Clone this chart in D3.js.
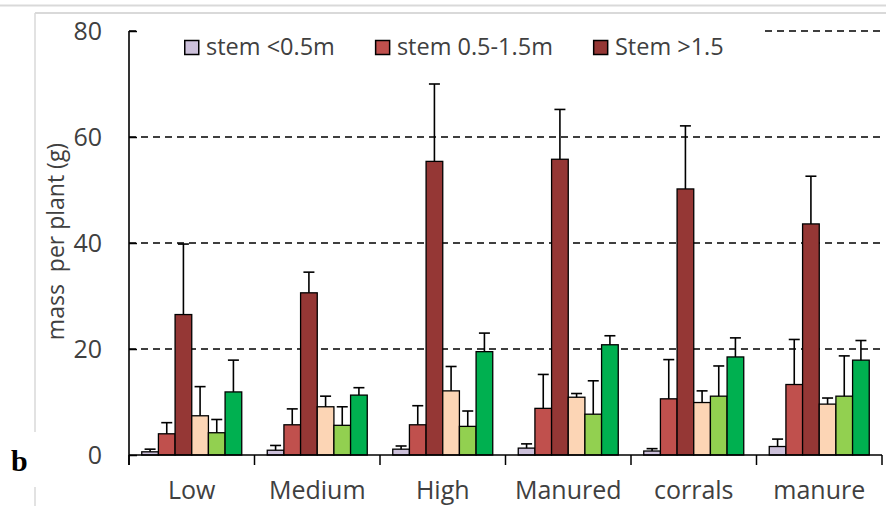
<!DOCTYPE html>
<html>
<head>
<meta charset="utf-8">
<script src="https://cdn.jsdelivr.net/npm/d3@7"></script>
<style>
  html, body { margin: 0; padding: 0; background: #fff; }
  svg { display: block; }
  text { font-family: "Open Sans", sans-serif; fill: #404040; }
</style>
</head>
<body>
<svg id="chart" width="886" height="506"></svg>
<script>
// Treatments along the x axis
const categories = ["Low", "Medium", "High", "Manured", "corrals", "manure"];

// Mean mass per plant (g) for each of the six bar series
const stemSmall  = [0.6, 0.9, 1.1, 1.3, 0.75, 1.6];
const stemMid    = [4.0, 5.7, 5.7, 8.8, 10.6, 13.3];
const stemLarge  = [26.5, 30.6, 55.4, 55.8, 50.2, 43.6];
const peachVals  = [7.4, 9.1, 12.1, 10.9, 9.9, 9.6];
const lightGreen = [4.2, 5.6, 5.4, 7.7, 11.1, 11.1];
const greenVals  = [11.9, 11.3, 19.5, 20.8, 18.5, 17.9];

// Upper error (standard error) for each series
const stemSmallErr  = [0.5, 0.9, 0.6, 0.8, 0.45, 1.4];
const stemMidErr    = [2.1, 3.0, 3.6, 6.4, 7.4, 8.5];
const stemLargeErr  = [13.3, 3.9, 14.6, 9.4, 11.9, 9.0];
const peachErr      = [5.5, 2.0, 4.6, 0.7, 2.2, 1.15];
const lightGreenErr = [2.5, 3.5, 2.9, 6.3, 5.7, 7.6];
const greenErr      = [6.0, 1.4, 3.5, 1.7, 3.6, 3.7];

const legendLabels = ["stem <0.5m", "stem 0.5-1.5m", "Stem >1.5"];
const yTicks = [0, 20, 40, 60, 80];

const colors = ["#CCC0DA", "#C0504D", "#953735", "#FCD5B5", "#92D050", "#00B050"];

const seriesVals = [stemSmall, stemMid, stemLarge, peachVals, lightGreen, greenVals];
const seriesErr  = [stemSmallErr, stemMidErr, stemLargeErr, peachErr, lightGreenErr, greenErr];
const seriesIdx = d3.range(seriesVals.length);

const svg = d3.select("#chart");

// Outer frame lines
svg.append("line").attr("x1", 0).attr("x2", 886).attr("y1", 5.5).attr("y2", 5.5)
  .attr("stroke", "#d9d9d9").attr("stroke-width", 2);
svg.append("line").attr("x1", 35).attr("x2", 886).attr("y1", 13).attr("y2", 13)
  .attr("stroke", "#d9d9d9").attr("stroke-width", 2);
svg.append("line").attr("x1", 35).attr("x2", 35).attr("y1", 13).attr("y2", 432)
  .attr("stroke", "#d9d9d9").attr("stroke-width", 1.5);
svg.append("line").attr("x1", 35).attr("x2", 35).attr("y1", 487).attr("y2", 506)
  .attr("stroke", "#d9d9d9").attr("stroke-width", 1.5);

const plotLeft = 129, plotRight = 882, plotTop = 31, plotBottom = 455;

const y = d3.scaleLinear().domain([0, 80]).range([plotBottom, plotTop]);
const x = d3.scaleBand().domain(categories).range([plotLeft, plotRight])
  .paddingInner(0.2032).paddingOuter(0.1016);
const xs = d3.scaleBand().domain(seriesIdx).range([0, x.bandwidth()]);

// Dashed horizontal gridlines
svg.append("g").selectAll("line").data(yTicks.filter(t => t > 0)).join("line")
  .attr("x1", plotLeft).attr("x2", plotRight)
  .attr("y1", d => y(d)).attr("y2", d => y(d))
  .attr("stroke", "#000").attr("stroke-width", 1.5).attr("stroke-dasharray", "7,5");

// Bars
const groups = svg.append("g").selectAll("g").data(categories).join("g")
  .attr("transform", d => `translate(${x(d)},0)`);

groups.selectAll("rect").data((c, ci) => seriesIdx.map(s => ({ s, v: seriesVals[s][ci], e: seriesErr[s][ci] })))
  .join("rect")
  .attr("x", d => xs(d.s)).attr("width", xs.bandwidth())
  .attr("y", d => y(d.v)).attr("height", d => y(0) - y(d.v))
  .attr("fill", d => colors[d.s]).attr("stroke", "#000").attr("stroke-width", 1.3);

// Error bars (upper only)
const cap = 11;
const eb = groups.selectAll("g.err").data((c, ci) => seriesIdx.map(s => ({ s, v: seriesVals[s][ci], e: seriesErr[s][ci] })))
  .join("g").attr("class", "err");
eb.append("line")
  .attr("x1", d => xs(d.s) + xs.bandwidth() / 2).attr("x2", d => xs(d.s) + xs.bandwidth() / 2)
  .attr("y1", d => y(d.v)).attr("y2", d => y(d.v + d.e))
  .attr("stroke", "#000").attr("stroke-width", 1.6);
eb.append("line")
  .attr("x1", d => xs(d.s) + xs.bandwidth() / 2 - cap / 2).attr("x2", d => xs(d.s) + xs.bandwidth() / 2 + cap / 2)
  .attr("y1", d => y(d.v + d.e)).attr("y2", d => y(d.v + d.e))
  .attr("stroke", "#000").attr("stroke-width", 1.6);

// Y axis: inward ticks, labels on the left
const yAxis = d3.axisLeft(y).tickValues(yTicks).tickSizeInner(-8).tickSizeOuter(0).tickPadding(27);
const yg = svg.append("g").attr("transform", `translate(${plotLeft},0)`).call(yAxis);
yg.select(".domain").remove();
yg.selectAll(".tick line").attr("stroke", "#000").attr("stroke-width", 1.5);
yg.selectAll(".tick text").attr("font-size", 25).attr("font-family", "Open Sans").attr("fill", "#404040");
svg.append("line").attr("x1", plotLeft).attr("x2", plotLeft).attr("y1", plotTop).attr("y2", plotBottom + 10)
  .attr("stroke", "#000").attr("stroke-width", 1.6);

// X axis: baseline, boundary ticks, category labels
const halfGap = (x.step() - x.bandwidth()) / 2;
const bounds = categories.map(c => x(c) - halfGap).concat([x(categories[categories.length - 1]) + x.bandwidth() + halfGap]);
svg.append("line").attr("x1", plotLeft).attr("x2", plotRight).attr("y1", y(0)).attr("y2", y(0))
  .attr("stroke", "#000").attr("stroke-width", 1.6);
svg.append("g").selectAll("line").data(bounds).join("line")
  .attr("x1", d => d).attr("x2", d => d).attr("y1", y(0)).attr("y2", y(0) + 10)
  .attr("stroke", "#000").attr("stroke-width", 1.5);
svg.append("g").selectAll("text").data(categories).join("text")
  .attr("x", d => x(d) + x.bandwidth() / 2).attr("y", 499)
  .attr("text-anchor", "middle").attr("font-size", 25).text(d => d);

// Y axis title
svg.append("text").attr("transform", "translate(64,241.5) rotate(-90)")
  .attr("text-anchor", "middle").attr("font-size", 23).attr("xml:space", "preserve")
  .style("white-space", "pre").text("mass  per plant (g)");

// Legend on a white box that hides the top gridline
svg.append("rect").attr("x", 137).attr("y", 20).attr("width", 624).attr("height", 42).attr("fill", "#fff");
const lg = svg.append("g");
let lx = 184;
legendLabels.forEach((lbl, i) => {
  lg.append("rect").attr("x", lx + 0.75).attr("y", 40.5).attr("width", 14).attr("height", 14)
    .attr("fill", colors[i]).attr("stroke", "#000").attr("stroke-width", 1.5);
  const t = lg.append("text").attr("x", lx + 22).attr("y", 55).attr("font-size", 23.5).text(lbl);
  lx += 22 + t.node().getComputedTextLength() + 40;
});

// Panel letter
svg.append("text").attr("x", 11).attr("y", 471)
  .style("font-family", "'Liberation Serif', serif").style("font-weight", "bold")
  .style("font-size", "30px").style("fill", "#000").text("b");
</script>
</body>
</html>
